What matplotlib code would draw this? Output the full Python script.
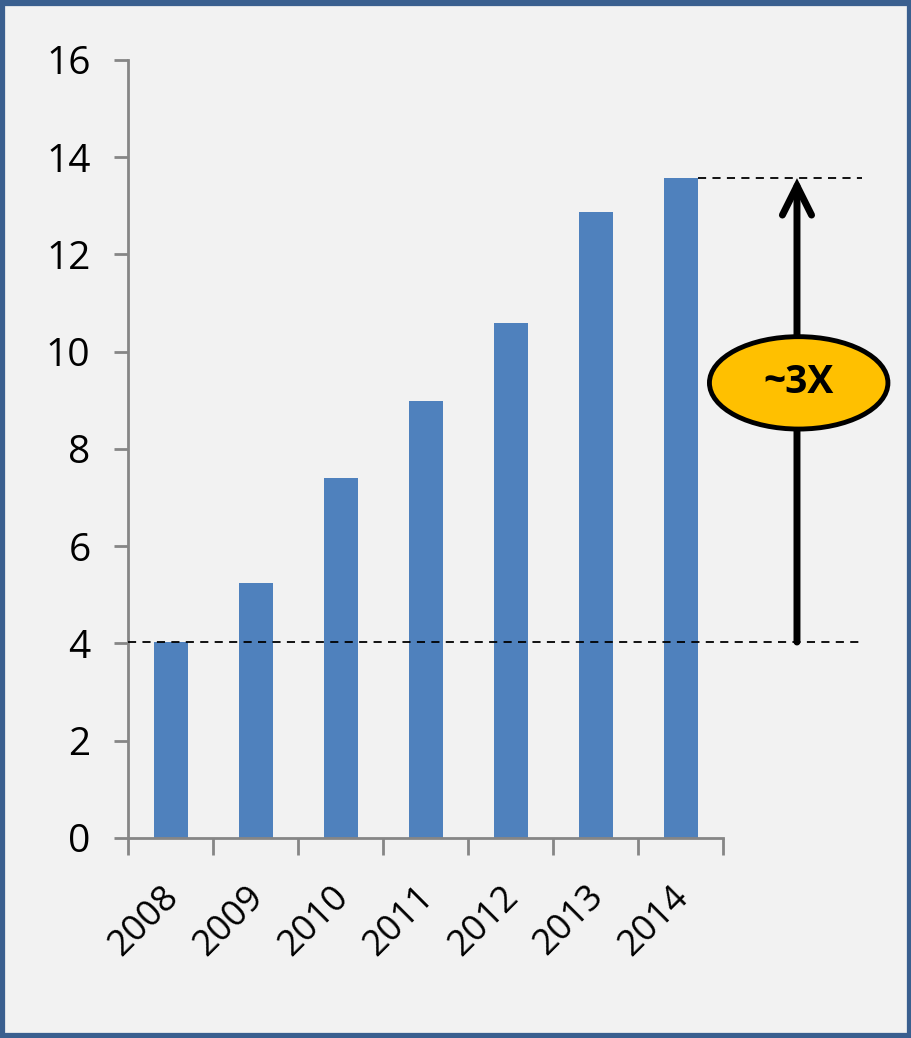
import matplotlib
matplotlib.use("Agg")
import matplotlib.pyplot as plt
from matplotlib.patches import Ellipse, Rectangle
from matplotlib.transforms import ScaledTranslation

years = ["2008", "2009", "2010", "2011", "2012", "2013", "2014"]
values = [4.03, 5.24, 7.40, 8.99, 10.59, 12.87, 13.57]
y_ticks = [0, 2, 4, 6, 8, 10, 12, 14, 16]
growth_label = "~3X"

bg = "#F2F2F2"
bar_color = "#4F81BD"
axis_gray = "#868686"

plt.rcParams["font.family"] = ["Open Sans", "DejaVu Sans"]

fig = plt.figure(figsize=(9.12, 10.38), dpi=100, facecolor=bg)
ax = fig.add_axes([0.1404, 0.1927, 0.6524, 0.7495])
ax.set_facecolor(bg)

x = list(range(len(years)))
ax.bar(x, values, width=0.4, color=bar_color, zorder=2)

ax.set_xlim(-0.5, len(years) - 0.5)
ax.set_ylim(0, 16)
ax.set_yticks(y_ticks)
ax.set_yticklabels([str(t) for t in y_ticks], fontsize=28)

# category ticks sit on the boundaries between years
ax.set_xticks([i - 0.5 for i in range(len(years) + 1)])
ax.set_xticklabels([])
ax.tick_params(axis="x", length=12, width=2, color=axis_gray)
ax.tick_params(axis="y", length=10, width=2, color=axis_gray, pad=17)

# rotated year labels under each bar
label_shift = ScaledTranslation(-0.10, -0.41, fig.dpi_scale_trans)
for xi, year in zip(x, years):
    ax.text(xi, 0, year, transform=ax.get_xaxis_transform() + label_shift,
            rotation=45, ha="right", va="top", rotation_mode="anchor",
            fontsize=26, clip_on=False)

for side in ("top", "right"):
    ax.spines[side].set_visible(False)
for side in ("left", "bottom"):
    ax.spines[side].set_color(axis_gray)
    ax.spines[side].set_linewidth(2)

# reference lines for first and last year, reaching past the plot area
x_far = 8.135
ax.plot([-0.5, x_far], [values[0], values[0]], ls=(0, (4.5, 3.5)), lw=1.3,
        color="black", clip_on=False, zorder=3)
ax.plot([6.2, x_far], [values[-1], values[-1]], ls=(0, (4.5, 3.5)), lw=1.3,
        color="black", clip_on=False, zorder=3)

# growth arrow
x_arrow = 7.37
ax.annotate("", xy=(x_arrow, values[-1]), xytext=(x_arrow, values[0]),
            arrowprops=dict(arrowstyle="->,head_length=2.1,head_width=1.05",
                            lw=5, color="black", capstyle="round",
                            joinstyle="miter", shrinkA=0, shrinkB=0),
            annotation_clip=False, zorder=4)

ell = Ellipse((7.39, 9.36), width=2.1, height=1.9, facecolor="#FFC000",
              edgecolor="black", lw=3.5, clip_on=False, zorder=5)
ax.add_patch(ell)
ax.text(7.39, 9.36, growth_label, ha="center", va="center", fontsize=28,
        fontweight="bold", color="black", zorder=6, clip_on=False)

# figure frame
fig.patches.append(Rectangle((0.0025, 0.002), 0.9955, 0.9955,
                             transform=fig.transFigure, fill=False,
                             edgecolor="#3A5F8F", lw=4.5))

fig.savefig("out.png", dpi=100, facecolor=bg)
